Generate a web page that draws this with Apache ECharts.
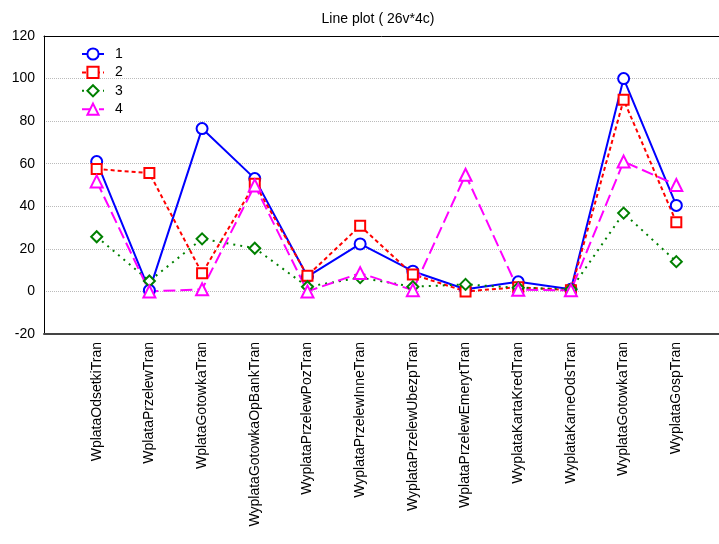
<!DOCTYPE html>
<html>
<head>
<meta charset="utf-8">
<script src="https://cdn.jsdelivr.net/npm/echarts@6/dist/echarts.min.js"></script>
<style>
html,body{margin:0;padding:0;background:#fff;}
#chart{width:719px;height:544px;}
</style>
</head>
<body>
<div id="chart"></div>
<script>
const categories = ['WplataOdsetkiTran','WplataPrzelewTran','WplataGotowkaTran','WyplataGotowkaOpBankTran','WyplataPrzelewPozTran','WyplataPrzelewInneTran','WyplataPrzelewUbezpTran','WplataPrzelewEmerytTran','WyplataKartaKredTran','WyplataKarneOdsTran','WyplataGotowkaTran','WyplataGospTran'];
const seriesNames = ['1','2','3','4'];
const s1 = [61, 0.5, 76.5, 53, 7, 22.3, 9.5, 1, 4.5, 1, 100, 40.4];
const s2 = [57.5, 55.6, 8.5, 50.6, 7.4, 30.8, 8, 0, 2, 0.6, 90, 32.5];
const s3 = [25.7, 4.9, 24.7, 20.3, 2.2, 6.5, 2.2, 3.3, 1.7, 1, 36.8, 14];
const s4 = [51.7, 0, 1, 49.8, 0, 8.6, 0.6, 54.8, 0.8, 0.5, 61, 50];
const yTicks = [-20, 0, 20, 40, 60, 80, 100, 120];

const font = 'Liberation Sans, Arial, sans-serif';
const styles = [
  {color:'#0000ff', type:'solid', symbol:'emptyCircle', size:11, width:2},
  {color:'#ff0000', type:[4,3], symbol:'emptyRect', size:10, width:2},
  {color:'#008000', type:[2,5], symbol:'emptyDiamond', size:11, width:2},
  {color:'#ff00ff', type:[12,5], symbol:'emptyTriangle', size:12, width:2}
];
const data = [s1, s2, s3, s4];

const chart = echarts.init(document.getElementById('chart'), null, {renderer:'canvas'});
chart.setOption({
  animation:false,
  backgroundColor:'#fff',
  title:{
    text:'Line plot ( 26v*4c)',
    left:373, top:7, textAlign:'center',
    textStyle:{fontFamily:font, fontSize:14, fontWeight:'normal', color:'#000'}
  },
  legend:{
    orient:'vertical', left:81, top:47, padding:0,
    itemWidth:22, itemHeight:14, itemGap:4.4,
    data:seriesNames,
    textStyle:{fontFamily:font, fontSize:14, color:'#000', padding:[0,0,0,6]}
  },
  grid:{
    left:44, right:0, top:36, bottom:210, show:false, containLabel:false
  },
  xAxis:[{
    type:'value', min:-1, max:11.81, interval:1,
    axisLine:{show:true, onZero:false, lineStyle:{color:'#444', width:2}},
    axisTick:{show:false},
    splitLine:{show:false},
    axisLabel:{
      rotate:90, fontFamily:font, fontSize:14, color:'#000', margin:8,
      showMinLabel:true, showMaxLabel:true, hideOverlap:false,
      formatter:v => (Number.isInteger(v) && categories[v]) ? categories[v] : ''
    }
  },{
    type:'value', position:'top', min:-1, max:11.81,
    axisLine:{show:true, onZero:false, lineStyle:{color:'#000', width:1}},
    axisTick:{show:false}, axisLabel:{show:false}, splitLine:{show:false}
  }],
  yAxis:{
    type:'value', min:yTicks[0], max:yTicks[yTicks.length-1], interval:20,
    axisLine:{show:true, onZero:false, lineStyle:{color:'#000', width:1}},
    axisTick:{show:false},
    splitLine:{show:true, lineStyle:{color:'#bbb', type:[1,1], width:1}},
    axisLabel:{fontFamily:font, fontSize:14, color:'#000', margin:9}
  },
  series:data.map((d,i)=>({
    name:seriesNames[i], type:'line', xAxisIndex:0,
    data:d.map((v,j)=>[j, v]),
    symbol:styles[i].symbol, symbolSize:styles[i].size, showAllSymbol:true,
    lineStyle:{color:styles[i].color, type:styles[i].type, width:styles[i].width},
    itemStyle:{color:styles[i].color, borderColor:styles[i].color, borderWidth:2}
  }))
});
</script>
</body>
</html>
